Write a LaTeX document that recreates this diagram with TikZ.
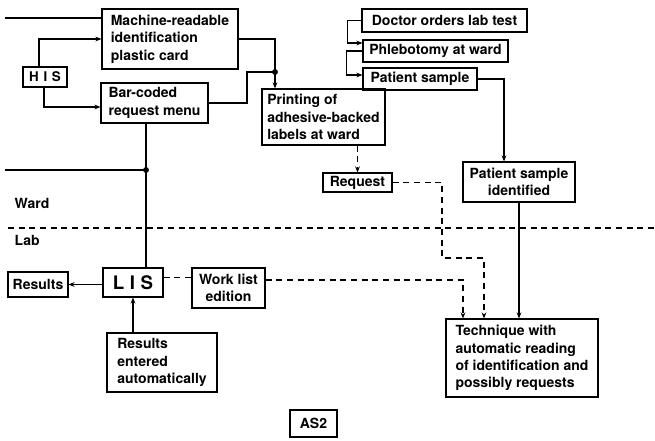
\documentclass[tikz,border=0pt]{standalone}
\usepackage{fontspec}
\setmainfont{TeX Gyre Heros}
\usetikzlibrary{arrows.meta}

\begin{document}
\begin{tikzpicture}[
  x=0.75pt, y=-0.75pt,
  every node/.style={font=\fontsize{10.5}{13}\selectfont\bfseries},
  box/.style={draw, line width=0.9pt, inner sep=2pt, align=left},
  line/.style={line width=0.8pt},
  edge/.style={line width=0.8pt, -{Stealth[length=4.5pt,width=3.6pt]}},
  dsh/.style={line width=0.8pt, dash pattern=on 4.5pt off 3.5pt}
]
\useasboundingbox (0,0) rectangle (655,441);

% Ward side
\node[box, minimum width=102pt, minimum height=45pt] (card) at (170,39) {Machine-readable\\identification\\plastic card};
\node[box, minimum width=33pt, minimum height=15pt, font=\fontsize{10}{12}\selectfont\bfseries] (his) at (45,77) {H\hspace{0.35em}I\hspace{0.35em}S};
\node[box, minimum width=80.25pt, minimum height=30pt] (menu) at (154.5,103) {Bar-coded\\request menu};
\node[box, minimum width=123.75pt, minimum height=17.25pt] (doctor) at (444.5,20.5) {Doctor orders lab test};
\node[box, minimum width=108.75pt, minimum height=16.5pt] (phleb) at (435.5,51) {Phlebotomy at ward};
\node[box, minimum width=85.5pt, minimum height=16.5pt] (sample) at (420,79) {Patient sample};
\node[box, minimum width=92.25pt, minimum height=42pt] (printing) at (323.5,117) {Printing of\\adhesive-backed\\labels at ward};
\node[box, minimum width=51.75pt, minimum height=14.25pt] (request) at (357.5,182.5) {Request};
\node[box, minimum width=84pt, minimum height=30pt, align=center] (identified) at (519,182) {Patient sample\\identified};

% Lab side
\node[box, minimum width=45pt, minimum height=21.75pt, font=\fontsize{14}{16}\selectfont\bfseries] (lis) at (133,282.5) {L\hspace{0.3em}I\hspace{0.3em}S};
\node[box, minimum width=45pt, minimum height=18.75pt] (results) at (38,284.5) {Results};
\node[box, minimum width=82.5pt, minimum height=44.25pt] (entered) at (162,362.5) {Results\\entered\\automatically};
\node[box, minimum width=54.75pt, minimum height=30pt, align=center] (worklist) at (228.5,288) {Work list\\edition};
\node[box, minimum width=114pt, minimum height=58.5pt] (technique) at (522,358) {Technique with\\automatic reading\\of identification and\\possibly requests};
\node[box, minimum width=35.25pt, minimum height=20.25pt] (as2) at (313.5,423.5) {AS2};

% Ward / Lab border
\node[anchor=west] (ward) at (10,203) {Ward};
\node[anchor=west] (lab) at (10,240) {Lab};
\coordinate (divl) at (8,228);
\coordinate (divr) at (655,228);
\draw[dsh] (divl) -- (divr);

% HIS and card
\coordinate (cardin) at (5,18);
\draw[line] (cardin) -- (card.west |- cardin);
\draw[edge] ([xshift=-4.5pt]his.north) |- (card.west);
\draw[edge] ([xshift=-0.75pt]his.south) |- ([yshift=-3pt]menu.west);

% joining card and menu
\coordinate (join) at (275,72);
\coordinate (bend) at (247,72);
\draw[line] (card.east) -| (join);
\draw[line] (menu.east) -| (bend) -- (join);
\fill (join) circle (2.2pt);
\draw[edge] (join) -- (printing.north -| join);

% menu down to LIS
\coordinate (wardlow) at (5,170);
\coordinate (tap) at (146,170);
\draw[line] (menu.south -| tap) -- (lis.north -| tap);
\draw[line] (wardlow) -- (tap);
\fill (tap) circle (2.2pt);
\draw[edge] (lis.west |- results.east) -- (results.east);
\draw[edge] (entered.north -| lis.south) -- (lis.south);

% ward chain
\draw[edge] (doctor.west) -- ++(-14,0) |- ([yshift=6pt]phleb.west);
\draw[edge] (phleb.west) -- ++(-16,0) |- ([yshift=3pt]sample.west);
\draw[edge] (sample.east) -| ([xshift=-11.25pt]identified.north);
\draw[edge] (identified.south) -- (identified.south |- technique.north);

% dashed requests
\coordinate (reqbend) at (442,258);
\draw[dsh, edge] (printing.south -| request.north) -- (request.north);
\draw[dsh, edge] (request.east) -| (reqbend) -| ([xshift=-28.5pt]technique.north);
\draw[dsh] ([yshift=4pt]lis.east) -- ([yshift=4pt]lis.east -| worklist.west);
\draw[dsh, edge] ([yshift=6pt]worklist.east) -| ([xshift=-44.25pt]technique.north);

\end{tikzpicture}
\end{document}
